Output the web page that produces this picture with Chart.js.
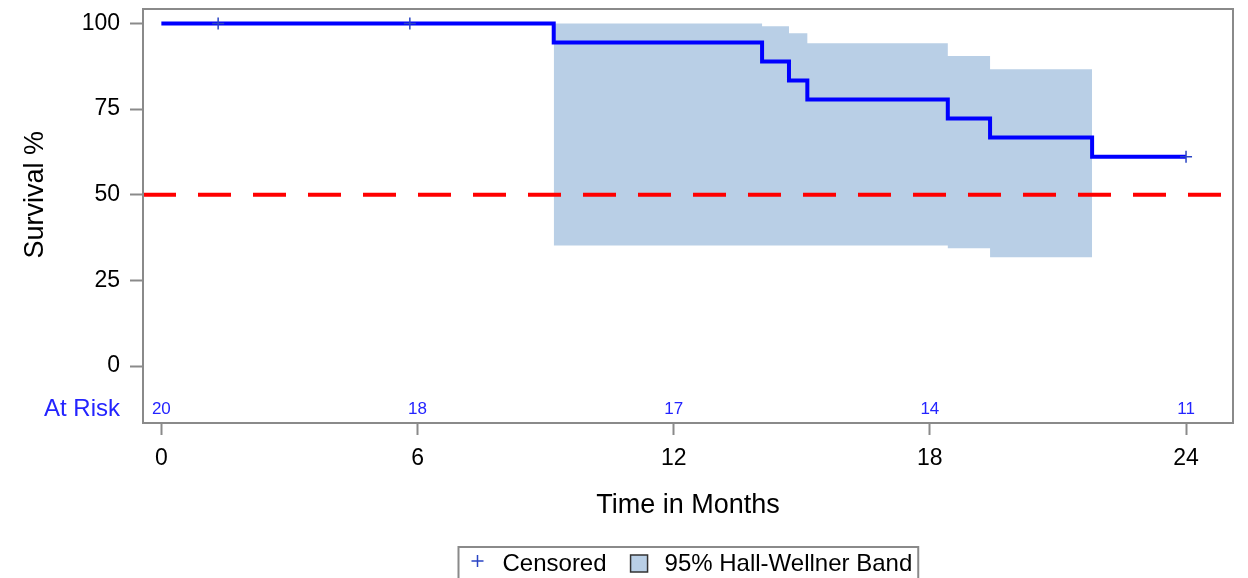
<!DOCTYPE html>
<html>
<head>
<meta charset="utf-8">
<title>Kaplan-Meier Survival</title>
<script src="https://cdn.jsdelivr.net/npm/chart.js@4.4.1/dist/chart.umd.min.js"></script>
<style>
  html, body { margin: 0; padding: 0; background: #fff; }
  #wrap { width: 1248px; height: 578px; }
</style>
</head>
<body>
<div id="wrap"><canvas id="kmChart" width="1248" height="578"></canvas></div>
<script>
// survival curve (months, %)
var survTimes = [0, 9.19, 14.07, 14.70, 15.13, 18.42, 19.41, 21.80, 24];
var survPct = [100, 94.44, 88.89, 83.33, 77.78, 72.22, 66.67, 61.11, 61.11];

// censored observations
var censorTimes = [1.33, 5.82, 24];
var censorPct = [100, 100, 61.11];

// 95% Hall-Wellner band
var bandTimes = [9.19, 14.07, 14.70, 15.13, 18.42, 19.41, 21.80];
var bandUpper = [100, 99.2, 97.1, 94.2, 90.5, 86.6, 86.6];
var bandLower = [35.2, 35.2, 35.2, 35.2, 34.4, 31.8, 31.8];

// number at risk
var atRiskTimes = [0, 6, 12, 18, 24];
var atRiskCounts = [20, 18, 17, 14, 11];

// axis ticks
var xTicks = [0, 6, 12, 18, 24];
var yTicks = [0, 25, 50, 75, 100];
var medianLine = 50;

// axis ranges and the row used for the at-risk numbers
var xMin = -0.43, xMax = 25.1;
var yMin = -16.6, yMax = 104.2;
var atRiskRow = -12.5;

var FONT = '"Liberation Sans", Arial, sans-serif';
var bandColor = 'rgb(185, 207, 230)';
var riskColor = '#2424ff';
var frameColor = '#8a8a8a';

Chart.defaults.font.family = FONT;

function pts(xs, ys) {
    return xs.map(function (v, i) { return { x: v, y: ys[i] }; });
}

var kmExtras = {
    id: 'kmExtras',
    afterDraw: function (chart) {
        var ctx = chart.ctx, a = chart.chartArea;
        var x = chart.scales.x, y = chart.scales.y;
        ctx.save();

        // frame round the plot
        ctx.strokeStyle = frameColor;
        ctx.lineWidth = 2;
        ctx.strokeRect(a.left, a.top, a.right - a.left, a.bottom - a.top);

        // at risk numbers
        ctx.fillStyle = riskColor;
        ctx.font = '17px ' + FONT;
        ctx.textAlign = 'center';
        ctx.textBaseline = 'middle';
        var ry = y.getPixelForValue(atRiskRow);
        atRiskTimes.forEach(function (t, i) {
            ctx.fillText(String(atRiskCounts[i]), x.getPixelForValue(t), ry);
        });

        // y title, centred on the 0-100 range
        ctx.save();
        ctx.translate(36, y.getPixelForValue(medianLine));
        ctx.rotate(-Math.PI / 2);
        ctx.fillStyle = '#000';
        ctx.font = '27px ' + FONT;
        ctx.fillText('Survival %', 0, 0);
        ctx.restore();

        // legend
        ctx.font = '24px ' + FONT;
        ctx.textAlign = 'left';
        var t1 = 'Censored', t2 = '95% Hall-Wellner Band';
        var w1 = ctx.measureText(t1).width, w2 = ctx.measureText(t2).width;
        var boxW = 13 + 12 + 19 + w1 + 24 + 17 + 17 + w2 + 6;
        var bx = Math.round((a.left + a.right) / 2 - boxW / 2) + 0.5;
        var by = 547;
        var cy = 563;
        ctx.strokeStyle = frameColor;
        ctx.lineWidth = 2;
        ctx.strokeRect(bx, by, boxW, 40);

        var px = bx + 19;
        ctx.strokeStyle = '#2a44c4';
        ctx.lineWidth = 1.5;
        ctx.beginPath();
        ctx.moveTo(px - 6, cy - 2); ctx.lineTo(px + 6, cy - 2);
        ctx.moveTo(px, cy - 8); ctx.lineTo(px, cy + 4);
        ctx.stroke();

        ctx.fillStyle = '#000';
        var tx = bx + 13 + 12 + 19;
        ctx.fillText(t1, tx, cy + 1);
        var sx = tx + w1 + 24;
        ctx.fillStyle = bandColor;
        ctx.fillRect(sx, cy - 8, 17, 17);
        ctx.strokeStyle = '#333';
        ctx.lineWidth = 1.5;
        ctx.strokeRect(sx, cy - 8, 17, 17);
        ctx.fillStyle = '#000';
        ctx.fillText(t2, sx + 17 + 17, cy + 1);

        ctx.restore();
    }
};

var ctx = document.getElementById('kmChart').getContext('2d');
var kmChart = new Chart(ctx, {
    type: 'line',
    data: {
        datasets: [
            {
                label: 'Censored',
                data: pts(censorTimes, censorPct),
                showLine: false,
                pointStyle: 'cross',
                pointRadius: 6,
                pointBorderWidth: 1.5,
                pointBorderColor: '#2a44c4',
                order: 0
            },
            {
                label: 'Survival',
                data: pts(survTimes, survPct),
                stepped: true,
                borderColor: '#0000ff',
                borderWidth: 4,
                pointRadius: 0,
                fill: false,
                order: 1
            },
            {
                label: 'Median',
                data: pts([xMin, xMax], [medianLine, medianLine]),
                borderColor: '#ff0000',
                borderWidth: 4,
                borderDash: [33, 22],
                pointRadius: 0,
                fill: false,
                order: 2
            },
            {
                label: '95% Hall-Wellner Band',
                data: pts(bandTimes, bandUpper),
                stepped: true,
                borderColor: 'rgba(0,0,0,0)',
                borderWidth: 0,
                backgroundColor: bandColor,
                pointRadius: 0,
                fill: '+1',
                order: 4
            },
            {
                label: 'lower',
                data: pts(bandTimes, bandLower),
                stepped: true,
                borderColor: 'rgba(0,0,0,0)',
                borderWidth: 0,
                pointRadius: 0,
                fill: false,
                order: 5
            }
        ]
    },
    options: {
        responsive: false,
        animation: false,
        events: [],
        layout: { padding: { top: 9, right: 15, bottom: 0, left: 0 } },
        plugins: {
            legend: { display: false },
            tooltip: { enabled: false }
        },
        scales: {
            x: {
                type: 'linear',
                min: xMin,
                max: xMax,
                afterBuildTicks: function (s) {
                    s.ticks = xTicks.map(function (v) { return { value: v }; });
                },
                afterFit: function (s) {
                    s.height = 155;
                    s.paddingLeft = 0;
                    s.paddingRight = 0;
                },
                border: { display: false },
                grid: {
                    drawOnChartArea: false,
                    drawTicks: true,
                    tickLength: 12,
                    tickWidth: 2,
                    tickColor: frameColor
                },
                ticks: {
                    color: '#000',
                    padding: 10,
                    maxRotation: 0,
                    font: { size: 23 }
                },
                title: {
                    display: true,
                    text: 'Time in Months',
                    color: '#000',
                    font: { size: 27 },
                    padding: { top: 0, bottom: 56 }
                }
            },
            y: {
                type: 'linear',
                min: yMin,
                max: yMax,
                afterBuildTicks: function (s) {
                    s.ticks = [{ value: atRiskRow }].concat(yTicks.map(function (v) { return { value: v }; }));
                },
                afterFit: function (s) {
                    s.width = 143;
                    s.paddingTop = 0;
                    s.paddingBottom = 0;
                },
                border: { display: false },
                grid: {
                    drawOnChartArea: false,
                    drawTicks: true,
                    tickLength: 13,
                    tickWidth: 2,
                    tickColor: function (c) {
                        return c.tick && c.tick.value < 0 ? 'rgba(0,0,0,0)' : frameColor;
                    }
                },
                ticks: {
                    padding: 10,
                    callback: function (v) { return v < 0 ? 'At Risk' : String(v); },
                    color: function (c) { return c.tick && c.tick.value < 0 ? riskColor : '#000'; },
                    font: function (c) {
                        return { size: c.tick && c.tick.value < 0 ? 24 : 23 };
                    }
                }
            }
        }
    },
    plugins: [kmExtras]
});
</script>
</body>
</html>
